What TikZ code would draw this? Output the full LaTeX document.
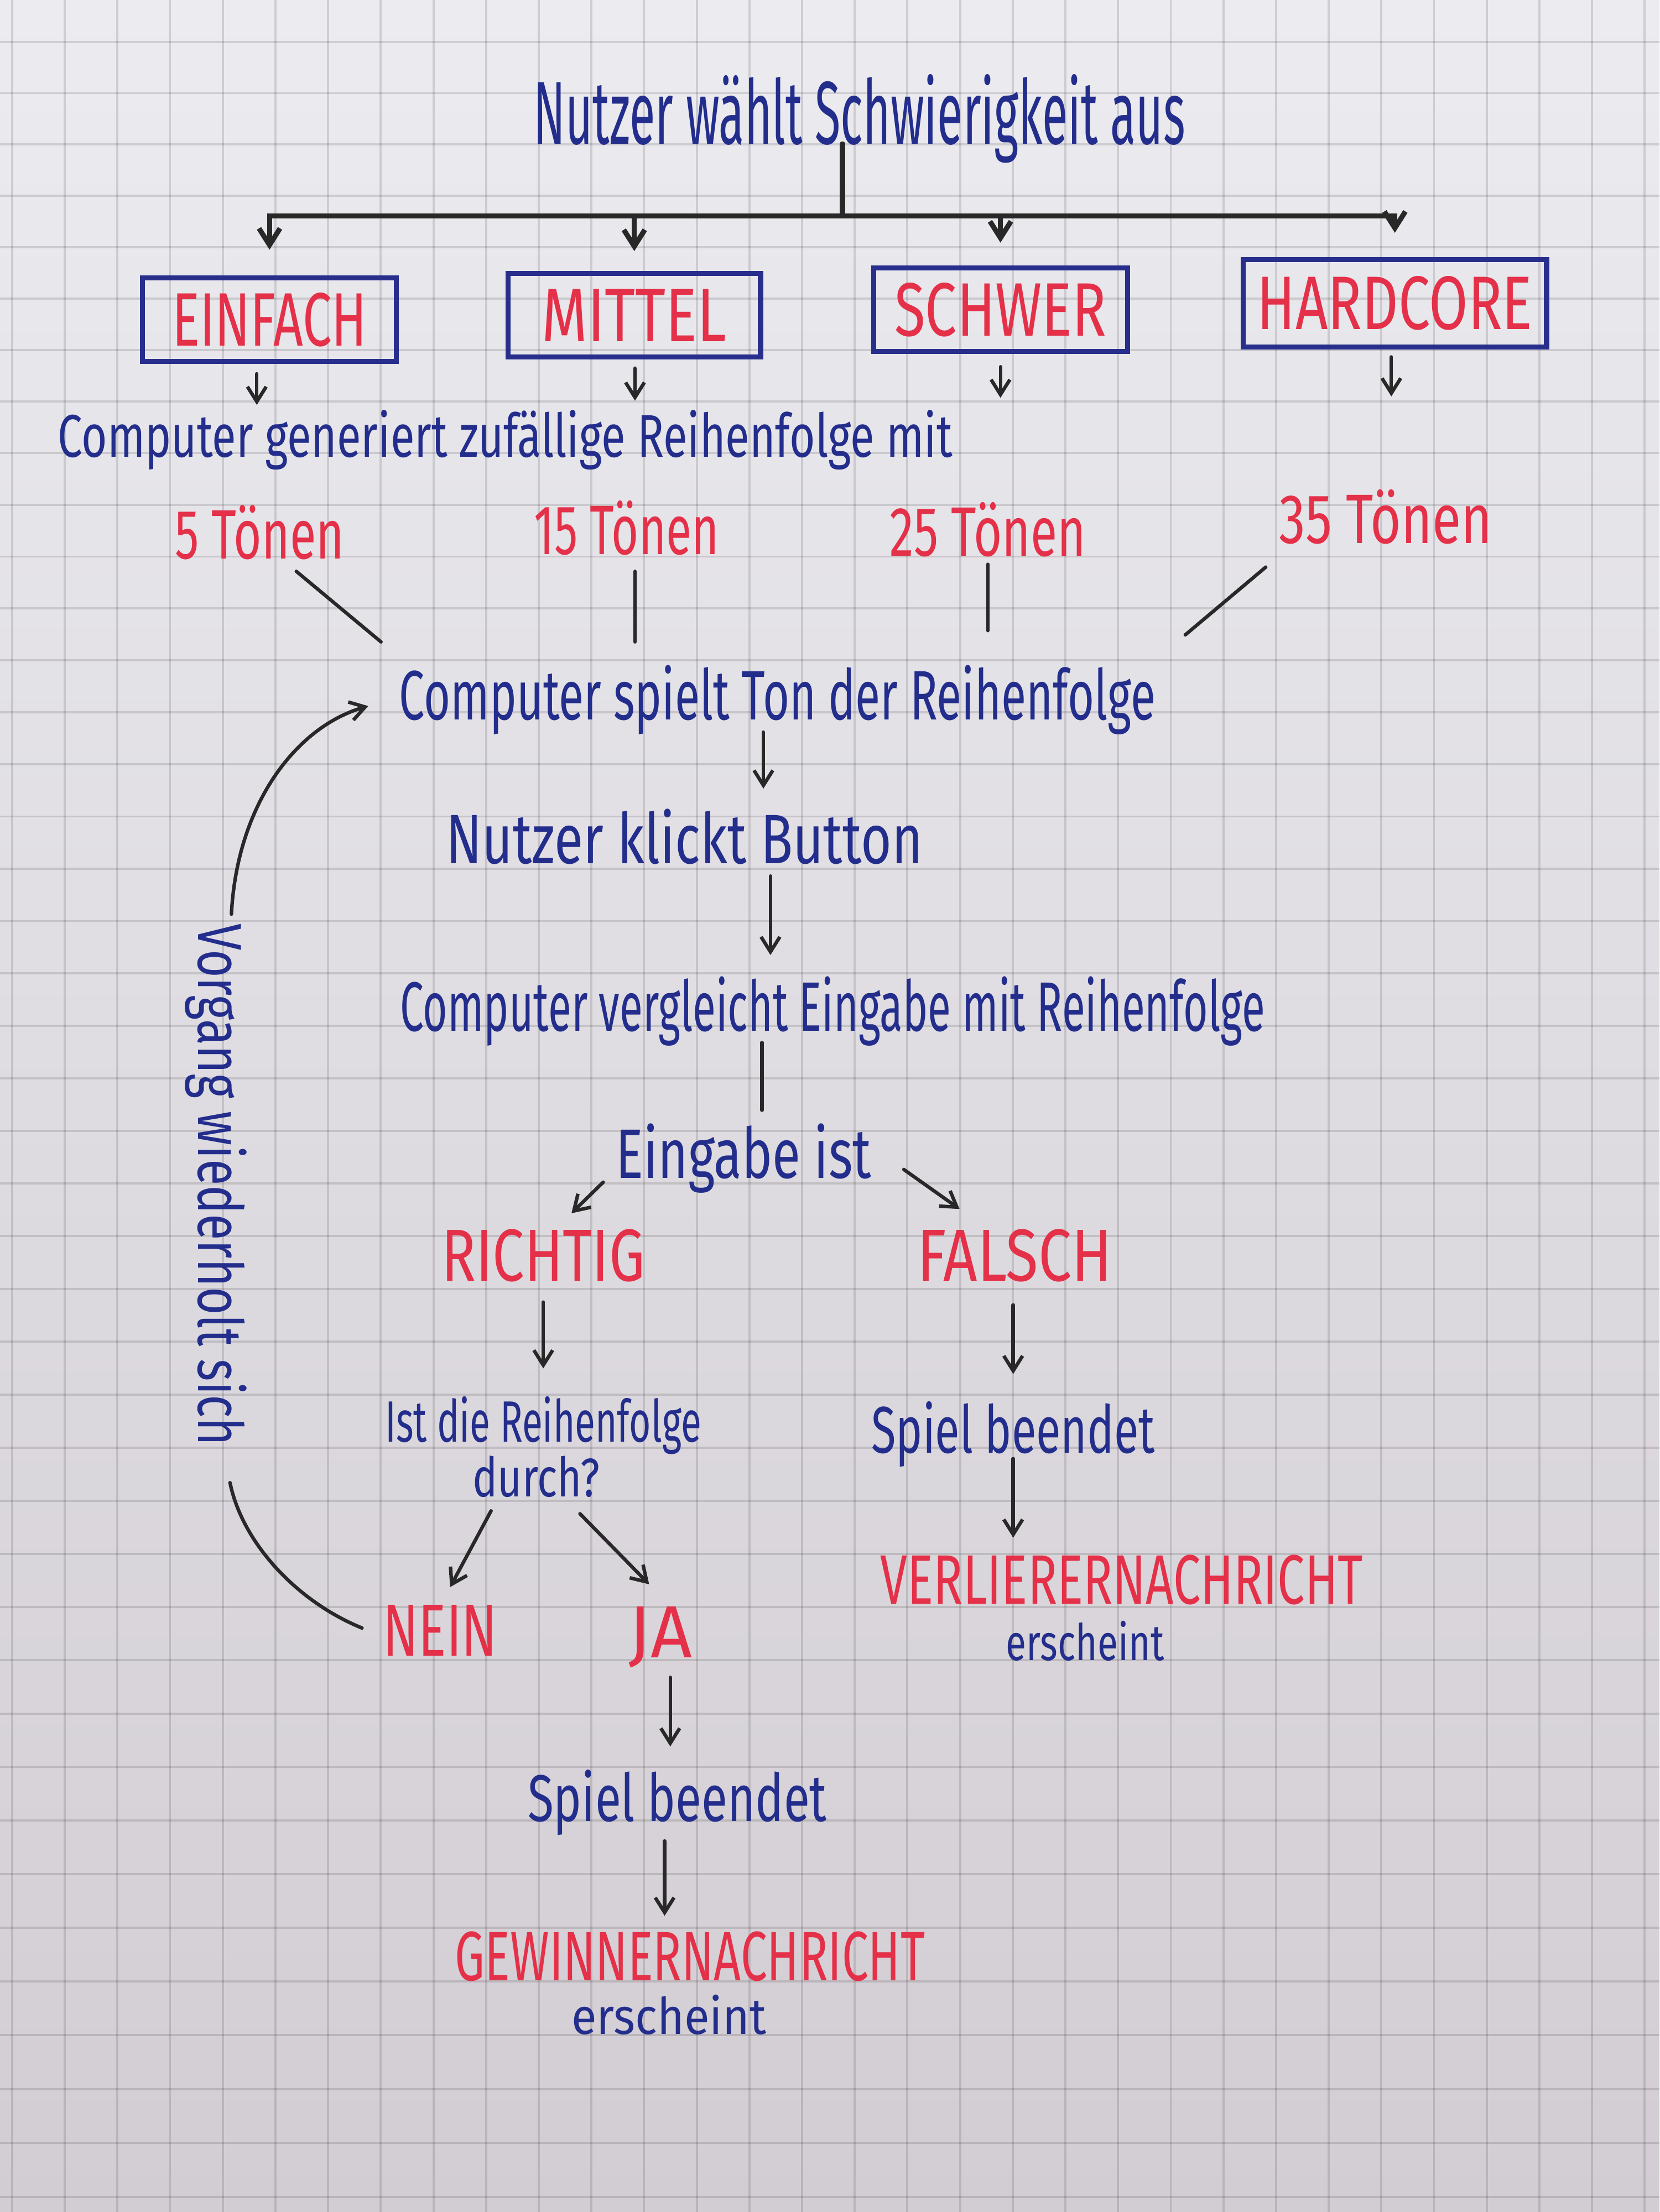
\documentclass[tikz,border=0pt]{standalone}
\usepackage{fontspec}
\setmainfont{Fira Sans}
\usepackage{graphicx}
\usetikzlibrary{calc,arrows.meta}
\newlength{\upx}\setlength{\upx}{0.02551cm}
\newcommand{\hw}[3]{\resizebox{#1\upx}{\height}{\fontsize{#2}{#2}\selectfont #3}}
\definecolor{inkblue}{RGB}{35,45,140}
\definecolor{inkred}{RGB}{228,48,72}
\definecolor{boxblue}{RGB}{40,46,140}
\definecolor{inkblack}{RGB}{40,40,40}
\definecolor{papertop}{RGB}{235,235,240}
\definecolor{papermid}{RGB}{228,226,231}
\definecolor{paperbot}{RGB}{210,205,210}
\begin{document}
\begin{tikzpicture}[x=0.02551cm, y=-0.02551cm,
  txt/.style={inner sep=0pt, outer sep=0pt, anchor=base, text depth=0pt},
  th/.style={text height=#1\upx},
  bt/.style={txt, text=inkblue},
  rt/.style={txt, text=inkred},
  box/.style={draw=boxblue, line width=2.6pt, inner sep=0pt, outer sep=0pt, text=inkred, text depth=0pt},
  ln/.style={draw=inkblack, line width=1.8pt, line cap=round},
  arr/.style={ln, -{Straight Barb[length=0.27cm, width=0.34cm]}},
  bar/.style={draw=inkblack, line width=2.6pt, line cap=round},
  bararr/.style={bar, -{Straight Barb[length=0.3cm, width=0.38cm]}},
  gridline/.style={draw=black, opacity=0.12, line width=1.1pt}
]
\useasboundingbox (0,0) rectangle (1176,1568);
% paper
\shade[top color=papertop, middle color=papermid, bottom color=paperbot] (0,0) rectangle (1176,1568);
\foreach \k in {0,...,31} {\draw[gridline] ({8.6+37.32*\k},0) -- ({8.6+37.32*\k},1568);}
\foreach \k in {0,...,41} {\draw[gridline] (0,{29.8+36.22*\k+0.02528*\k*\k}) -- (1176,{29.8+36.22*\k+0.02528*\k*\k});}

% title
\node[bt, th=44] (title) at (609,102) {\hw{462}{46}{Nutzer wählt Schwierigkeit aus}};
\coordinate (j) at (597,153);

% difficulty boxes
\node[box, minimum width=180\upx, minimum height=59\upx, text height=37\upx] (b1) at (191,226.5) {\hw{138}{39}{EINFACH}};
\node[box, minimum width=179\upx, minimum height=59\upx, text height=37\upx] (b2) at (449.5,223.5) {\hw{131}{39}{MITTEL}};
\node[box, minimum width=180\upx, minimum height=59\upx, text height=37\upx] (b3) at (709,219.5) {\hw{150}{39}{SCHWER}};
\node[box, minimum width=215\upx, minimum height=62\upx, text height=37\upx] (b4) at (988.5,215) {\hw{195}{39}{HARDCORE}};

% generation
\node[bt, th=34] (gen) at (358,324) {\hw{634}{31}{Computer generiert zufällige Reihenfolge mit}};
\node[rt, th=38] (t1) at (184,396) {\hw{120}{36}{5 Tönen}};
\node[rt, th=31] (t2) at (444,393) {\hw{131}{36}{15 Tönen}};
\node[rt, th=40] (t3) at (700,394) {\hw{139}{36}{25 Tönen}};
\node[rt, th=32] (t4) at (982,385) {\hw{151}{36}{35 Tönen}};

% main flow
\node[bt, th=43] (cs) at (551,510) {\hw{536}{36}{Computer spielt Ton der Reihenfolge}};
\node[bt, th=41] (nk) at (485,612) {\hw{338}{36}{Nutzer klickt Button}};
\node[bt, th=44] (cv) at (590,731) {\hw{613}{36}{Computer vergleicht Eingabe mit Reihenfolge}};
\node[bt, th=38] (ei) at (527,835) {\hw{181}{36}{Eingabe ist}};
\node[rt, th=36] (ri) at (385,908) {\hw{144}{38}{RICHTIG}};
\node[rt, th=32] (fa) at (719,908) {\hw{138}{38}{FALSCH}};
\node[bt, th=35] (id) at (385,1022) {\hw{224}{30}{Ist die Reihenfolge}};
\node[bt, th=29] (id2) at (380,1061) {\hw{90}{28}{durch?}};
\node[bt, th=41] (sb1) at (718,1030) {\hw{201}{34}{Spiel beendet}};
\node[rt, th=35] (vl) at (795,1137) {\hw{342}{36}{VERLIERERNACHRICHT}};
\node[bt, th=24] (vl2) at (769,1177) {\hw{112}{26}{erscheint}};
\node[rt, th=36] (nein) at (312,1174) {\hw{81}{38}{NEIN}};
\node[rt, th=37] (ja) at (468,1175) {\hw{45}{38}{JA}};
\node[bt, th=39] (sb2) at (480,1291) {\hw{212}{34}{Spiel beendet}};
\node[rt, th=36] (gw) at (489,1404) {\hw{333}{36}{GEWINNERNACHRICHT}};
\node[bt, th=26] (gw2) at (474,1442) {\hw{138}{26}{erscheint}};
\node[inner sep=0pt, outer sep=0pt, text=inkblue, rotate=-90] (vg) at (153,840) {\hw{370}{32}{Vorgang wiederholt sich}};

% top distribution
\draw[bar] (title.south -| j) -- (j);
\draw[bararr, shorten >=20\upx] (j) -| (b1.north);
\draw[bararr, shorten >=16\upx] (j) -| (b2.north);
\draw[bararr, shorten >=18\upx] (j) -| (b3.north);
\draw[bararr, shorten >=19\upx] (j) -| (b4.north);

% box arrows
\draw[arr] ($(b1.south)+(-9,9)$) -- ($(b1.south |- gen.north)+(-9,-3)$);
\draw[arr] ($(b2.south)+(0.5,8)$) -- ($(b2.south |- gen.north)+(0.5,-6)$);
\draw[arr] ($(b3.south)+(0,11)$) -- ($(b3.south |- gen.north)+(0,-8)$);
\draw[arr] ($(b4.south)+(-2.5,7)$) -- ($(b4.south |- gen.north)+(-2.5,-9)$);

% tones to computer plays
\draw[ln] ($(t1.south)+(26,9)$) -- ($(cs.north west)+(-13,-12)$);
\draw[ln] ($(t2.south)+(6,12)$) -- ($(t2.south |- cs.north)+(6,-12)$);
\draw[ln] ($(t3.south)+(0,6)$) -- ($(t3.south |- cs.north)+(0,-20)$);
\draw[ln] ($(t4.south)+(-85,17)$) -- ($(cs.north east)+(21,-17)$);

% main flow connectors
\draw[arr] ($(cs.south)+(-10,9)$) -- ($(cs.south |- nk.north)+(-10,-12)$);
\draw[arr] ($(cv.north |- nk.south)+(-44,9)$) -- ($(cv.north)+(-44,-10)$);
\draw[ln] ($(cv.south)+(-50,8)$) -- ($(ei.north)+(13,-10)$);
\draw[arr] ($(ei.south west)+(-9,3)$) -- ($(ri.north)+(20,-12)$);
\draw[arr] ($(ei.south east)+(23,-6)$) -- ($(fa.north)+(-39,-19)$);
\draw[arr] ($(ri.south)+(0,15)$) -- ($(id.north)+(0,-17)$);
\draw[arr] ($(fa.south)+(-1,17)$) -- ($(sb1.north)+(0,-15)$);
\draw[arr] ($(sb1.south)+(0,4)$) -- ($(vl.north)+(-77,-12)$);
\draw[arr] ($(id2.south west)+(13,10)$) -- ($(nein.north)+(7,-13)$);
\draw[arr] ($(id2.south east)+(-14,12)$) -- ($(ja.north)+(-8,-15)$);
\draw[arr] ($(ja.south)+(7,14)$) -- ($(sb2.north)+(-5,-14)$);
\draw[arr] ($(sb2.south)+(-9,14)$) -- ($(gw.north)+(-18,-10)$);

% loop back
\draw[ln] ($(nein.west)+(-15,-2)$) .. controls (212,1136) and (172,1095) .. ($(vg.center)+(10,211)$);
\draw[arr] ($(vg.center)+(11,-192)$) .. controls (168,570) and (210,515) .. ($(cs.west)+(-22,12)$);
\end{tikzpicture}
\end{document}
